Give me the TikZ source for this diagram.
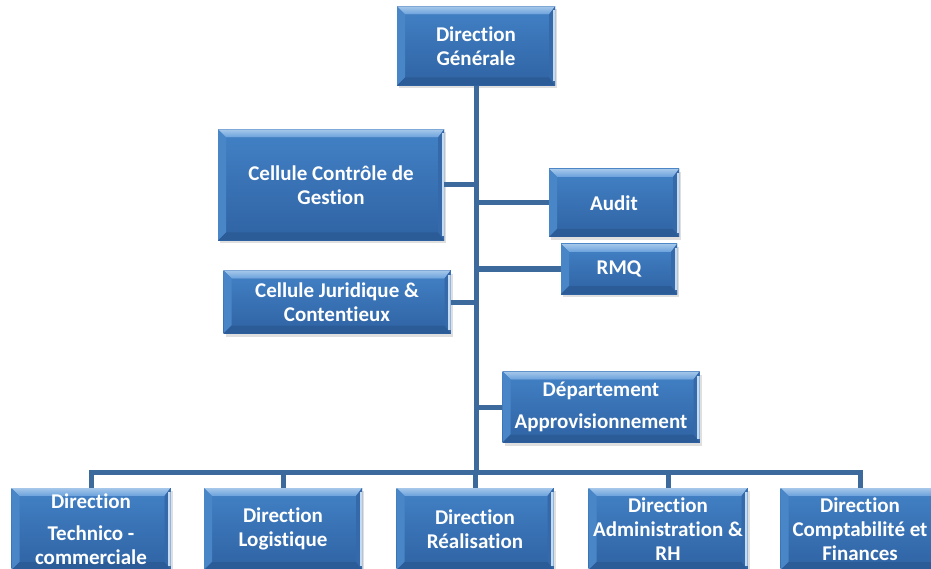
\documentclass[tikz,border=0pt]{standalone}
\usepackage{fontspec}
\setmainfont{Carlito}[Ligatures=NoCommon]
\usetikzlibrary{calc,shadows}

\definecolor{facetop}{HTML}{4281C6}
\definecolor{facebot}{HTML}{2F63A3}
\definecolor{beveltop}{HTML}{69A1DC}
\definecolor{bevelleft}{HTML}{4986C8}
\definecolor{bevelright}{HTML}{3569A9}
\definecolor{bevelbot}{HTML}{2C5C97}
\definecolor{edgelight}{HTML}{C3DCF4}
\definecolor{linkblue}{HTML}{3D6A9C}

\tikzset{
  orgbox/.style 2 args={minimum width=#1, minimum height=#2, inner sep=0pt,
    align=center, text=white, font=\fontsize{21}{24}\selectfont\bfseries,
    fill=facebot, drop shadow={shadow xshift=2pt, shadow yshift=-3pt, opacity=0.25},
    path picture={
      \coordinate (bsw) at (path picture bounding box.south west);
      \coordinate (bne) at (path picture bounding box.north east);
      \coordinate (bnw) at (bsw |- bne);
      \coordinate (bse) at (bne |- bsw);
      \fill[top color=facetop, bottom color=facebot] (bsw) rectangle (bne);
      \fill[top color=beveltop!60!white, bottom color=beveltop] (bnw) -- (bne) -- ($(bne)+(-6pt,-8pt)$) -- ($(bnw)+(8pt,-8pt)$) -- cycle;
      \fill[bevelleft] (bnw) -- ($(bnw)+(8pt,-8pt)$) -- ($(bsw)+(8pt,8pt)$) -- (bsw) -- cycle;
      \fill[bevelright] (bne) -- ($(bne)+(-6pt,-8pt)$) -- ($(bse)+(-6pt,8pt)$) -- (bse) -- cycle;
      \fill[bevelbot] (bsw) -- ($(bsw)+(8pt,8pt)$) -- ($(bse)+(-6pt,8pt)$) -- (bse) -- cycle;
      \fill[edgelight] ($(bne)+(-2.5pt,-4pt)$) rectangle ($(bse)+(0pt,4pt)$);
    }},
  link/.style={draw=linkblue, line width=5pt}
}

\begin{document}
\begin{tikzpicture}[x=1pt,y=-1pt]
\useasboundingbox[fill=white] (0,0) rectangle (931,569);

% top and side boxes
\node[orgbox={158pt}{79pt}] (dg) at (476,46) {Direction\\Générale};
\node[orgbox={226pt}{111pt}] (ccg) at (331,185) {Cellule Contrôle de\\Gestion};
\node[orgbox={130pt}{68pt}] (audit) at (614,203) {Audit};
\node[orgbox={116pt}{50pt}] (rmq) at (619,269) {RMQ};
\node[orgbox={227pt}{63pt}] (cjc) at (337,302) {Cellule Juridique \&\\Contentieux};
\node[orgbox={197pt}{71pt}] (dapp) at (601,407) {Département\\[8pt]Approvisionnement};

% bottom row
\node[orgbox={159pt}{82pt}] (dtc) at (91,529) {Direction\\[8pt]Technico -\\commerciale};
\node[orgbox={158pt}{82pt}] (dlog) at (283,529) {Direction\\Logistique};
\node[orgbox={157pt}{82pt}] (dreal) at (475,529) {Direction\\Réalisation};
\node[orgbox={159pt}{82pt}] (dadm) at (668,529) {Direction\\Administration \&\\RH};
\node[orgbox={159pt}{82pt}] (dcf) at (860,529) {Direction\\Comptabilité et\\Finances};

\coordinate (bus) at (476,472);

% connectors
\draw[link] (dg.south) -- (bus);
\draw[link] (ccg.east) -- (ccg.east -| dg.south);
\draw[link] (audit.west) -- (audit.west -| dg.south);
\draw[link] (rmq.west) -- (rmq.west -| dg.south);
\draw[link] (cjc.east) -- (cjc.east -| dg.south);
\draw[link] (dapp.west) -- (dapp.west -| dg.south);
\foreach \n in {dtc,dlog,dreal,dadm,dcf}
  \draw[link] (bus) -| (\n.north);
\end{tikzpicture}
\end{document}
